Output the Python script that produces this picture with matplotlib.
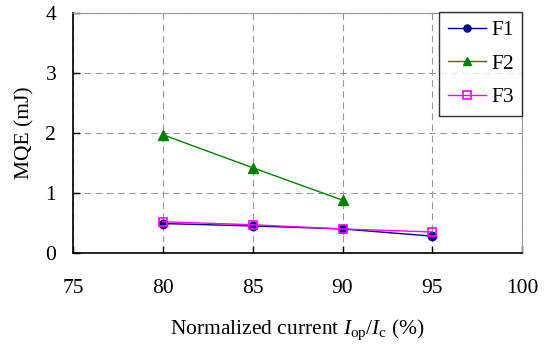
import matplotlib
matplotlib.use("Agg")
import matplotlib.pyplot as plt

x_f1 = [80, 85, 90, 95]
f1 = [0.49, 0.45, 0.40, 0.28]
x_f2 = [80, 85, 90]
f2 = [1.97, 1.42, 0.88]
x_f3 = [80, 85, 90, 95]
f3 = [0.52, 0.47, 0.40, 0.35]
xticks = [75, 80, 85, 90, 95, 100]
yticks = [0, 1, 2, 3, 4]

plt.rcParams['font.family'] = ['Liberation Serif', 'DejaVu Serif']
plt.rcParams['mathtext.fontset'] = 'custom'
plt.rcParams['mathtext.it'] = 'Liberation Serif:italic'
plt.rcParams['mathtext.rm'] = 'Liberation Serif'

FS = 15.5
fig = plt.figure(figsize=(5.48, 3.47), dpi=100)
ax = fig.add_axes([0.133, 0.271, 0.82, 0.692])

ax.plot(x_f1, f1, color='#000080', marker='o', markersize=6, lw=1, label='F1', zorder=3)
ax.plot(x_f2, f2, color='#008000', marker='^', markersize=7.5, lw=1, label='F2', zorder=3)
ax.plot(x_f3, f3, color='#FF00FF', marker='s', markersize=6, lw=1, markerfacecolor='none',
        markeredgewidth=1.2, label='F3', zorder=4)

ax.set_xlim(75, 100)
ax.set_ylim(0, 4)
ax.set_xticks(xticks)
ax.set_yticks(yticks)
ax.tick_params(labelsize=FS, direction='in', length=5, width=1)
ax.tick_params(axis='y', pad=12)
ax.tick_params(axis='x', pad=19)
ax.grid(True, color='#999999', linestyle=(0, (6, 4)), lw=0.8)
for s in ['top', 'right']:
    ax.spines[s].set_color('#999999')
for s in ['left', 'bottom']:
    ax.spines[s].set_color('black')
    ax.spines[s].set_linewidth(1.2)

ax.set_ylabel('MQE (mJ)', fontsize=FS, labelpad=8)
ax.set_xlabel(r'Normalized current $I_{\rm op}/I_{\rm c}$ (%)', fontsize=FS, labelpad=14)

leg = ax.legend(loc='upper right', bbox_to_anchor=(1.0, 1.005), fontsize=FS, frameon=True,
                fancybox=False, edgecolor='black', handlelength=1.75, handletextpad=0.25,
                borderaxespad=0, labelspacing=0.62, borderpad=0.4, markerscale=0.85)
leg.get_frame().set_linewidth(1)

fig.savefig('out.png', dpi=100)
